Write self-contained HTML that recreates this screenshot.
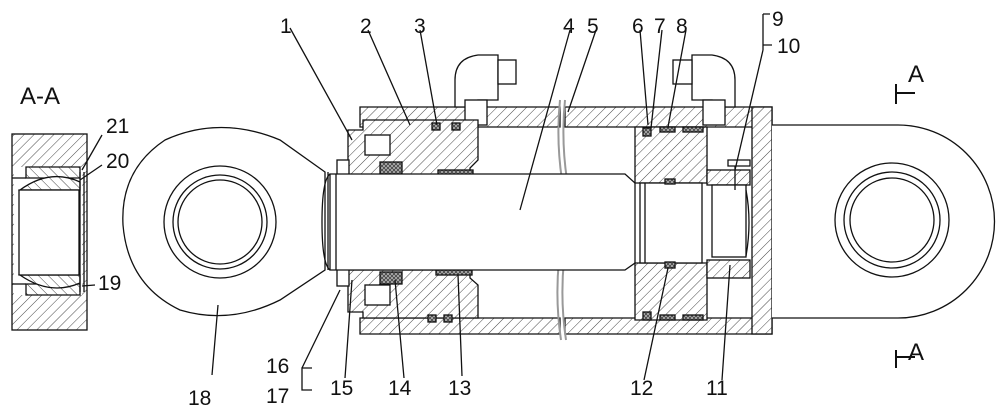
<!DOCTYPE html>
<html><head><meta charset="utf-8"><style>
html,body{margin:0;padding:0;background:#fff;}
svg{display:block;}
text{font-family:"Liberation Sans",sans-serif;font-size:21px;fill:#111;}
</style></head><body>
<svg width="1000" height="418" viewBox="0 0 1000 418" xmlns="http://www.w3.org/2000/svg">
<defs>
<pattern id="h" width="7" height="7" patternUnits="userSpaceOnUse" patternTransform="rotate(45)">
<rect width="7" height="7" fill="#fff"/><line x1="0" y1="0" x2="0" y2="7" stroke="#333" stroke-width="0.9"/></pattern>
<pattern id="h2" width="7" height="7" patternUnits="userSpaceOnUse" patternTransform="rotate(-45)">
<rect width="7" height="7" fill="#fff"/><line x1="0" y1="0" x2="0" y2="7" stroke="#333" stroke-width="0.9"/></pattern>
<pattern id="x" width="4" height="4" patternUnits="userSpaceOnUse">
<rect width="4" height="4" fill="#aaa"/><path d="M0 0L4 4M4 0L0 4" stroke="#222" stroke-width="0.6"/></pattern>
</defs>
<g stroke="#111" stroke-width="1.3" fill="none">
<!-- A-A section -->
<rect x="12" y="134" width="75" height="196" fill="url(#h)"/>
<rect x="14" y="167" width="68" height="128" fill="#fff" stroke="none"/>
<path d="M26 167H80V178H26Z" fill="url(#h2)"/>
<path d="M26 284H80V295H26Z" fill="url(#h2)"/>
<path d="M20 190Q50 168 80 182V190Z" fill="url(#h2)"/>
<path d="M20 275Q50 296 80 283V275Z" fill="url(#h2)"/>
<rect x="19" y="190" width="60" height="85" fill="#fff"/>
<line x1="80" y1="172" x2="80" y2="292"/><line x1="84" y1="172" x2="84" y2="292"/>
<line x1="12" y1="178" x2="26" y2="178"/><line x1="12" y1="284" x2="26" y2="284"/>
<!-- left eye 18 -->
<path d="M325 172 L280 140 Q220 115 165 140 Q120 170 123 225 Q128 285 180 310 Q230 325 280 300 L325 270 Z" fill="#fff"/>
<line x1="328" y1="172" x2="328" y2="270"/>
<circle cx="220" cy="222" r="56"/><circle cx="220" cy="222" r="47"/><circle cx="220" cy="222" r="42"/>
<!-- tube -->
<path d="M360 107H560V127H360Z" fill="url(#h)"/>
<path d="M565 107H772V127H565Z" fill="url(#h)"/>
<path d="M360 318H560V334H360Z" fill="url(#h)"/>
<path d="M565 318H772V334H565Z" fill="url(#h)"/>
<rect x="752" y="107" width="20" height="227" fill="url(#h)"/>
<path d="M560 100 Q556 140 562 180 Q567 220 559 260 Q555 300 561 340" stroke="#999" stroke-width="2"/>
<path d="M565 100 Q561 140 567 180 Q572 220 564 260 Q560 300 566 340" stroke="#999" stroke-width="2"/>
<!-- ports -->
<path d="M455 107V80Q455 58 478 55H498V100H478V107Z" fill="#fff"/>
<rect x="498" y="60" width="18" height="24" fill="#fff"/>
<rect x="465" y="100" width="22" height="25" fill="#fff"/>
<path d="M735 107V80Q735 58 712 55H692V100H712V107Z" fill="#fff"/>
<rect x="673" y="60" width="19" height="24" fill="#fff"/>
<rect x="703" y="100" width="22" height="25" fill="#fff"/>
<!-- gland -->
<path d="M348 130H363V120H478V160L470 168V175H348Z" fill="url(#h)"/>
<path d="M348 270H470V278L478 285V318H363V312H348Z" fill="url(#h)"/>
<rect x="365" y="135" width="25" height="20" fill="#fff"/>
<rect x="365" y="285" width="25" height="20" fill="#fff"/>
<rect x="380" y="162" width="22" height="12" fill="url(#x)"/>
<rect x="380" y="272" width="22" height="12" fill="url(#x)"/>
<rect x="438" y="170" width="35" height="5" fill="url(#x)"/>
<rect x="436" y="270" width="36" height="5" fill="url(#x)"/>
<rect x="432" y="123" width="8" height="7" fill="url(#x)"/><rect x="452" y="123" width="8" height="7" fill="url(#x)"/>
<rect x="428" y="315" width="8" height="7" fill="url(#x)"/><rect x="444" y="315" width="8" height="7" fill="url(#x)"/>
<rect x="337" y="160" width="12" height="18" fill="#fff"/><rect x="337" y="268" width="12" height="18" fill="#fff"/>
<!-- rod -->
<path d="M330 174H625L635 183V263L625 270H330Z" fill="#fff"/>
<path d="M330 174Q322 180 322 222Q322 264 330 270"/>
<line x1="336" y1="174" x2="336" y2="270"/>
<!-- piston -->
<path d="M635 127H707V183H635Z" fill="url(#h)"/>
<path d="M635 263H707V320H635Z" fill="url(#h)"/>
<rect x="640" y="183" width="62" height="80" fill="#fff"/>
<line x1="645" y1="183" x2="645" y2="263"/>
<rect x="643" y="128" width="8" height="8" fill="url(#x)"/><rect x="660" y="127" width="15" height="5" fill="url(#x)"/><rect x="683" y="127" width="20" height="5" fill="url(#x)"/>
<rect x="643" y="312" width="8" height="8" fill="url(#x)"/><rect x="660" y="315" width="15" height="5" fill="url(#x)"/><rect x="683" y="315" width="20" height="5" fill="url(#x)"/>
<rect x="665" y="179" width="10" height="5" fill="url(#x)"/><rect x="665" y="262" width="10" height="6" fill="url(#x)"/>
<!-- nut -->
<rect x="707" y="170" width="43" height="15" fill="url(#h)"/>
<rect x="707" y="260" width="43" height="18" fill="url(#h)"/>
<rect x="712" y="185" width="34" height="72" fill="#fff"/>
<path d="M746 190Q752 222 746 256"/>
<path d="M728 160H750V166H728Z M735 166V190" fill="#fff"/>
<!-- right eye -->
<path d="M772 125H898A96 96 0 0 1 898 318H772" fill="#fff"/>
<circle cx="892" cy="220" r="57"/><circle cx="892" cy="220" r="48"/><circle cx="892" cy="220" r="42"/>
<!-- section marks -->
<path d="M896 84V104M896 93H915M896 350V368M896 357H915" stroke-width="2"/>
<!-- leaders -->
<path d="M290 28L352 140M368 30L410 125M420 30L437 125M570 30L520 210M596 30L568 112M640 30L648 125M662 30L651 128M686 30L668 127M763 14V50M763 14H770M763 45H772M763 50L735 170"/>
<path d="M102 135L82 170M102 165L80 180M95 285L82 286"/>
<path d="M212 375L218 305M312 368H302V390H312M302 368L340 290M345 378L352 280M404 378L395 280M462 376L458 275M644 380L668 268M722 380L730 265"/>
</g>
<text x="20" y="104" style="font-size:24px">A-A</text>
<text x="106" y="133">21</text><text x="106" y="168">20</text><text x="98" y="290">19</text>
<text x="280" y="33">1</text><text x="360" y="33">2</text><text x="414" y="33">3</text>
<text x="563" y="33">4</text><text x="587" y="33">5</text><text x="632" y="33">6</text><text x="654" y="33">7</text><text x="676" y="33">8</text>
<text x="772" y="26">9</text><text x="777" y="53">10</text>
<text x="908" y="82" style="font-size:24px">A</text><text x="908" y="360" style="font-size:24px">A</text>
<text x="188" y="405">18</text><text x="266" y="373">16</text><text x="266" y="403">17</text>
<text x="330" y="395">15</text><text x="388" y="395">14</text><text x="448" y="395">13</text>
<text x="630" y="395">12</text><text x="706" y="395">11</text>
</svg>
</body></html>
